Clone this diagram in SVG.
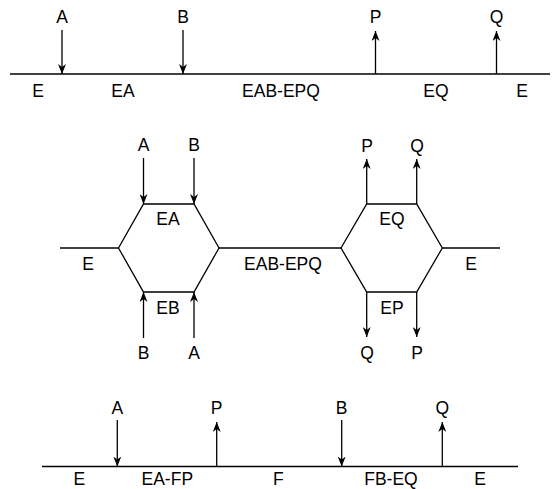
<svg xmlns="http://www.w3.org/2000/svg" width="552" height="489" viewBox="0 0 552 489">
<defs>
<marker id="ah" markerWidth="10" markerHeight="8" refX="10" refY="4" orient="auto" markerUnits="userSpaceOnUse">
<path d="M0,0 L10,4 L0,8 L3,4 z" fill="#000"/>
</marker>
<style>
text{font-family:"Liberation Sans",Arial,sans-serif;font-size:17.5px;fill:#000;text-anchor:middle}
.ln{stroke:#000;stroke-width:1.3;fill:none}
.ar{stroke:#000;stroke-width:1.3;fill:none;marker-end:url(#ah)}
</style>
</defs>
<rect width="552" height="489" fill="#fff"/>
<!-- Top panel -->
<g id="top">
<line class="ln" x1="10" y1="74" x2="550" y2="74"/>
<g id="top-arrows">
<line class="ar" x1="62" y1="30" x2="62" y2="74"/>
<line class="ar" x1="183" y1="30" x2="183" y2="74"/>
<line class="ar" x1="375.5" y1="74" x2="375.5" y2="31"/>
<line class="ar" x1="496.5" y1="74" x2="496.5" y2="31"/>
</g>
<text x="62" y="23">A</text>
<text x="183" y="23">B</text>
<text x="375.5" y="23">P</text>
<text x="496.5" y="23">Q</text>
<text x="38" y="97">E</text>
<text x="123" y="97">EA</text>
<text x="281" y="97">EAB-EPQ</text>
<text x="436" y="97">EQ</text>
<text x="522" y="97">E</text>
</g>
<!-- Middle panel -->
<g id="middle">
<g id="hex-left">
<polygon class="ln" points="118.5,248 143.5,204 194,204 219,248 194,292 143.5,292"/>
<text x="168" y="225">EA</text>
<text x="168" y="314">EB</text>
</g>
<g id="hex-right">
<polygon class="ln" points="341,248 366.7,204 416.7,204 442.3,248 416.7,292 366.7,292"/>
<text x="392" y="225">EQ</text>
<text x="392" y="314">EP</text>
</g>
<g id="mid-connectors">
<line class="ln" x1="60" y1="248" x2="118.5" y2="248"/>
<line class="ln" x1="219" y1="248" x2="341" y2="248"/>
<line class="ln" x1="442.3" y1="248" x2="500" y2="248"/>
<line class="ar" x1="143.5" y1="158" x2="143.5" y2="204"/>
<line class="ar" x1="194" y1="158" x2="194" y2="204"/>
<line class="ar" x1="143.5" y1="338" x2="143.5" y2="292"/>
<line class="ar" x1="194" y1="338" x2="194" y2="292"/>
<line class="ar" x1="366.7" y1="204" x2="366.7" y2="159"/>
<line class="ar" x1="416.7" y1="204" x2="416.7" y2="159"/>
<line class="ar" x1="366.7" y1="292" x2="366.7" y2="337"/>
<line class="ar" x1="416.7" y1="292" x2="416.7" y2="337"/>
</g>
<text x="143.5" y="151">A</text>
<text x="194" y="151">B</text>
<text x="143.5" y="359">B</text>
<text x="194" y="359">A</text>
<text x="367" y="152">P</text>
<text x="417" y="152">Q</text>
<text x="367" y="359">Q</text>
<text x="417" y="359">P</text>
<text x="88" y="270">E</text>
<text x="283" y="270">EAB-EPQ</text>
<text x="471" y="270">E</text>
</g>
<!-- Bottom panel -->
<g id="bottom">
<line class="ln" x1="42" y1="466.5" x2="518" y2="466.5"/>
<g id="bottom-arrows">
<line class="ar" x1="117.3" y1="420" x2="117.3" y2="466.5"/>
<line class="ar" x1="216.7" y1="466.5" x2="216.7" y2="422"/>
<line class="ar" x1="341.7" y1="420" x2="341.7" y2="466.5"/>
<line class="ar" x1="442.3" y1="466.5" x2="442.3" y2="422"/>
</g>
<text x="117.3" y="414">A</text>
<text x="216.7" y="414">P</text>
<text x="341.7" y="414">B</text>
<text x="442.3" y="414">Q</text>
<text x="79.3" y="485">E</text>
<text x="167.3" y="485">EA-FP</text>
<text x="278.3" y="485">F</text>
<text x="391" y="485">FB-EQ</text>
<text x="480" y="485">E</text>
</g>
</svg>
